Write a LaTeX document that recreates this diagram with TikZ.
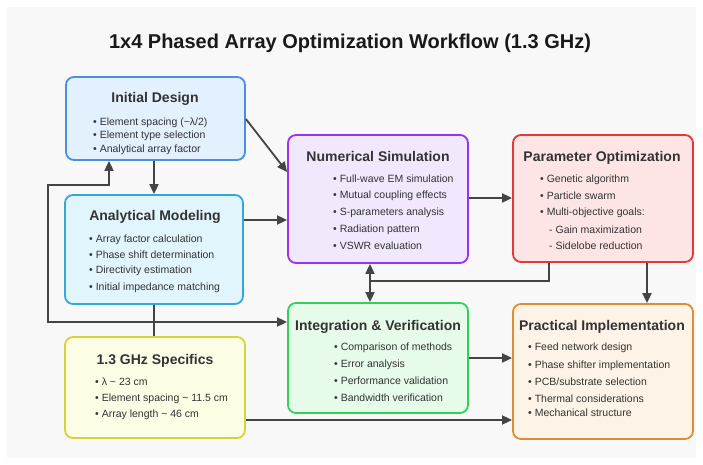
\documentclass[tikz,border=0pt]{standalone}
\usepackage{fontspec}
\setmainfont{Liberation Sans}
\usetikzlibrary{arrows.meta}
\definecolor{bgc}{HTML}{F8F8F8}
\definecolor{txt}{HTML}{333333}
\definecolor{lnc}{HTML}{444444}
\definecolor{initD}{HTML}{4A90E2}\definecolor{initF}{HTML}{E3F0FD}
\definecolor{analD}{HTML}{35A7D8}\definecolor{analF}{HTML}{E1F5FD}
\definecolor{numD}{HTML}{9933EE}\definecolor{numF}{HTML}{F1E8FD}
\definecolor{parD}{HTML}{E53935}\definecolor{parF}{HTML}{FDE5E5}
\definecolor{intD}{HTML}{33D15A}\definecolor{intF}{HTML}{E6FBEA}
\definecolor{praD}{HTML}{E08B35}\definecolor{praF}{HTML}{FDF3E6}
\definecolor{spcD}{HTML}{D4D43A}\definecolor{spcF}{HTML}{FDFDE6}
\tikzset{
  box/.style={rounded corners=8pt, line width=1.8pt, inner sep=0pt},
  ttl/.style={font=\bfseries\fontsize{14}{16}\selectfont, anchor=base, text=txt, inner sep=0pt},
  bul/.style={font=\fontsize{10.5}{12}\selectfont, anchor=base west, text=txt, inner sep=0pt},
  conn/.style={draw=lnc, line width=1.8pt},
  arr/.style={conn, -{Triangle[length=10pt,width=9pt]}},
  arrb/.style={conn, {Triangle[length=10pt,width=9pt]}-{Triangle[length=10pt,width=9pt]}},
}
\begin{document}
\begin{tikzpicture}[x=1pt,y=-1pt]
\useasboundingbox (0,0) rectangle (703,465);
\fill[white] (0,0) rectangle (703,465);
\fill[bgc] (7,7) rectangle (696,458);

\node[font=\bfseries\fontsize{20}{24}\selectfont, anchor=base, text=black!90, inner sep=0pt] (title) at (350,48.5) {1x4 Phased Array Optimization Workflow (1.3 GHz)};

% boxes
\node[box, draw=initD, fill=initF, minimum width=179pt, minimum height=83pt] (init) at (155.5,118.5) {};
\node[box, draw=analD, fill=analF, minimum width=178pt, minimum height=109pt] (anal) at (154,249.5) {};
\node[box, draw=numD, fill=numF, minimum width=180pt, minimum height=128pt] (num) at (378,199) {};
\node[box, draw=parD, fill=parF, minimum width=180pt, minimum height=127pt] (par) at (603,198.5) {};
\node[box, draw=intD, fill=intF, minimum width=180pt, minimum height=110pt] (integ) at (378,358) {};
\node[box, draw=praD, fill=praF, minimum width=180pt, minimum height=135pt] (pract) at (603,371.5) {};
\node[box, draw=spcD, fill=spcF, minimum width=180pt, minimum height=101pt] (spec) at (155,387.5) {};

% Initial Design
\node[ttl] (initT) at (155,103) {Initial Design};
\node[bul] (initB1) at (93,125.5) {• Element spacing (\textasciitilde λ/2)};
\node[bul] (initB2) at (93,139) {• Element type selection};
\node[bul] (initB3) at (93,152.5) {• Analytical array factor};

% Analytical Modeling
\node[ttl] (analT) at (155,220) {Analytical Modeling};
\node[bul] (analB1) at (89,242) {• Array factor calculation};
\node[bul] (analB2) at (89,258) {• Phase shift determination};
\node[bul] (analB3) at (89,273) {• Directivity estimation};
\node[bul] (analB4) at (89,290) {• Initial impedance matching};

% Numerical Simulation
\node[ttl] (numT) at (378,161) {Numerical Simulation};
\node[bul] (numB1) at (333,182.5) {• Full-wave EM simulation};
\node[bul] (numB2) at (333,198.5) {• Mutual coupling effects};
\node[bul] (numB3) at (333,215.5) {• S-parameters analysis};
\node[bul] (numB4) at (333,232.5) {• Radiation pattern};
\node[bul] (numB5) at (333,249.5) {• VSWR evaluation};

% Parameter Optimization
\node[ttl] (parT) at (602,161) {Parameter Optimization};
\node[bul] (parB1) at (540,182.5) {• Genetic algorithm};
\node[bul] (parB2) at (540,199.5) {• Particle swarm};
\node[bul] (parB3) at (540,215.5) {• Multi-objective goals:};
\node[bul] (parB4) at (549,233.5) {- Gain maximization};
\node[bul] (parB5) at (549,249.5) {- Sidelobe reduction};

% Integration & Verification
\node[ttl] (intT) at (378,330) {Integration \& Verification};
\node[bul] (intB1) at (334,350.5) {• Comparison of methods};
\node[bul] (intB2) at (334,367.5) {• Error analysis};
\node[bul] (intB3) at (334,384.5) {• Performance validation};
\node[bul] (intB4) at (334,401.5) {• Bandwidth verification};

% Practical Implementation
\node[ttl] (praT) at (602,330) {Practical Implementation};
\node[bul] (praB1) at (528,350.5) {• Feed network design};
\node[bul] (praB2) at (528,368.5) {• Phase shifter implementation};
\node[bul] (praB3) at (528,385.5) {• PCB/substrate selection};
\node[bul] (praB4) at (528,402.5) {• Thermal considerations};
\node[bul] (praB5) at (528,416.5) {• Mechanical structure};

% 1.3 GHz Specifics
\node[ttl] (spcT) at (155,364) {1.3 GHz Specifics};
\node[bul] (spcB1) at (95,385.5) {• λ \textasciitilde\ 23 cm};
\node[bul] (spcB2) at (95,401.5) {• Element spacing \textasciitilde\ 11.5 cm};
\node[bul] (spcB3) at (95,417.5) {• Array length \textasciitilde\ 46 cm};

% connectors
\draw[arr] (anal.north |- init.south) -- (anal.north);
\draw[arr] (init.east |- 0,119) -- (num.west |- 0,172);
\draw[arr] (anal.east |- 0,220) -- (num.west |- 0,220);
\draw[arrb] (init.south -| 109,0) -- (109,185) -- (48,185) -- (48,322) -- (integ.west |- 0,322);
\draw[conn] (anal.south) -- (spec.north -| anal.south);
\draw[arrb] (num.south -| 370,0) -- (integ.north -| 370,0);
\draw[conn] (par.south -| 549,0) -- (549,281) -- (370,281);
\draw[arr] (num.east |- 0,198) -- (par.west |- 0,198);
\draw[arr] (par.south -| 647,0) -- (pract.north -| 647,0);
\draw[arr] (integ.east |- 0,358) -- (pract.west |- 0,358);
\draw[arr] (spec.east |- 0,420) -- (pract.west |- 0,420);
\end{tikzpicture}
\end{document}
